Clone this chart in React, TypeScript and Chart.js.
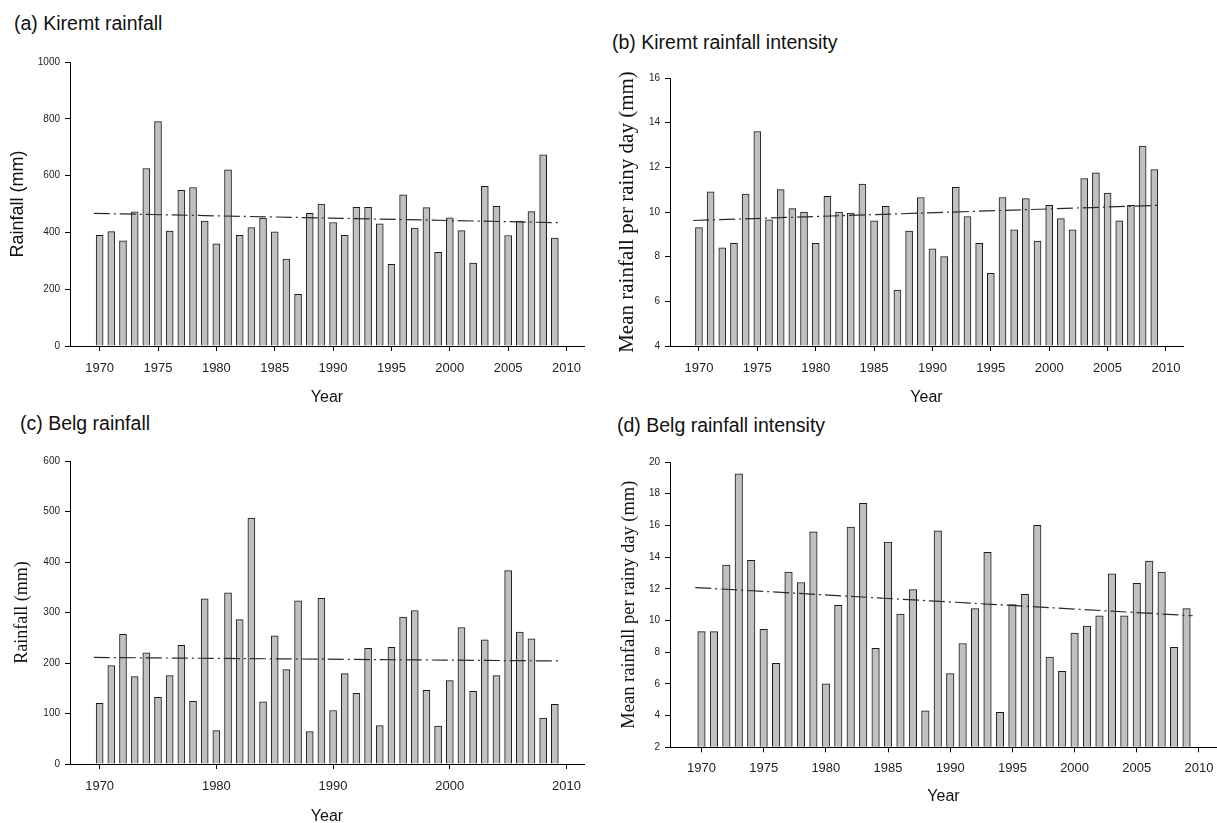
import React, { useEffect, useRef } from "react";
import { Chart, registerables } from "chart.js";

Chart.register(...registerables);

// ---------------- data ----------------
const years = [
  1970, 1971, 1972, 1973, 1974, 1975, 1976, 1977, 1978, 1979,
  1980, 1981, 1982, 1983, 1984, 1985, 1986, 1987, 1988, 1989,
  1990, 1991, 1992, 1993, 1994, 1995, 1996, 1997, 1998, 1999,
  2000, 2001, 2002, 2003, 2004, 2005, 2006, 2007, 2008, 2009,
];

const kiremtRainfall = [
  390, 403, 370, 472, 625, 790, 405, 548, 558, 440,
  360, 620, 390, 417, 450, 402, 306, 182, 467, 500,
  435, 390, 488, 488, 430, 288, 532, 415, 487, 330,
  451, 406, 292, 562, 492, 389, 440, 473, 673, 380,
];

const kiremtIntensity = [
  9.3, 10.9, 8.4, 8.6, 10.8, 13.6, 9.65, 11.0, 10.15, 10.0,
  8.6, 10.7, 10.0, 9.95, 11.25, 9.6, 10.25, 6.5, 9.15, 10.65,
  8.35, 8.0, 11.1, 9.8, 8.6, 7.25, 10.65, 9.2, 10.6, 8.7,
  10.3, 9.7, 9.2, 11.5, 11.75, 10.85, 9.6, 10.3, 12.95, 11.9,
];

const belgRainfall = [
  120, 195, 257, 173, 220, 132, 175, 235, 124, 327,
  66, 339, 286, 487, 123, 254, 187, 323, 64, 328,
  106, 179, 140, 229, 76, 231, 291, 304, 146, 75,
  165, 270, 144, 246, 175, 383, 261, 248, 91, 118,
];

const belgIntensity = [
  9.3, 9.3, 13.5, 19.25, 13.8, 9.45, 7.3, 13.05, 12.4, 15.6,
  6.0, 10.95, 15.9, 17.4, 8.25, 14.95, 10.4, 11.95, 4.3, 15.65,
  6.65, 8.55, 10.75, 14.3, 4.2, 11.0, 11.65, 16.0, 7.7, 6.8,
  9.2, 9.65, 10.3, 12.95, 10.3, 12.35, 13.75, 13.05, 8.3, 10.75,
];

// linear trend lines (start / end)
const trendYears = [1969.5, 2009.5];
const kiremtRainfallTrend = [467, 434];
const kiremtIntensityTrend = [9.62, 10.3];
const belgRainfallTrend = [211, 204];
const belgIntensityTrend = [12.08, 10.3];

// tick labels
const xTicksFive = [1970, 1975, 1980, 1985, 1990, 1995, 2000, 2005, 2010];
const xTicksTen = [1970, 1980, 1990, 2000, 2010];
const yTicksA = [0, 200, 400, 600, 800, 1000];
const yTicksB = [4, 6, 8, 10, 12, 14, 16];
const yTicksC = [0, 100, 200, 300, 400, 500, 600];
const yTicksD = [2, 4, 6, 8, 10, 12, 14, 16, 18, 20];

const titles = [
  "(a) Kiremt rainfall",
  "(b) Kiremt rainfall intensity",
  "(c) Belg rainfall",
  "(d) Belg rainfall intensity",
];

const SANS = "Arial, 'Liberation Sans', Helvetica, sans-serif";
const SERIF = "'Times New Roman', 'Liberation Serif', Times, serif";

type Panel = {
  title: string;
  titleLeft: number;
  titleTop: number;
  left: number;
  top: number;
  width: number;
  height: number;
  padding: { top: number; right: number; bottom: number; left: number };
  yWidth: number;
  xHeight: number;
  xMin: number;
  xMax: number;
  xTicks: number[];
  xTickPad: number;
  xTitlePad: number;
  xTitleLH: number;
  yMin: number;
  yMax: number;
  yTicks: number[];
  yTitle: string;
  yTitleFamily: string;
  yTitleSize: number;
  yTitlePad: number;
  values: number[];
  trend: number[];
  barWidth: number;
};

const panels: Panel[] = [
  {
    title: titles[0], titleLeft: 14, titleTop: 14,
    left: 0, top: 0, width: 600, height: 410,
    padding: { top: 62, right: 16, bottom: 0, left: 0 },
    yWidth: 70, xHeight: 64,
    xMin: 1967.46, xMax: 2011.5, xTicks: xTicksFive, xTickPad: 10.5, xTitlePad: 4, xTitleLH: 1,
    yMin: 0, yMax: 1000, yTicks: yTicksA,
    yTitle: "Rainfall (mm)", yTitleFamily: SANS, yTitleSize: 18, yTitlePad: 9,
    values: kiremtRainfall, trend: kiremtRainfallTrend, barWidth: 7,
  },
  {
    title: titles[1], titleLeft: 612, titleTop: 32.5,
    left: 600, top: 0, width: 617, height: 410,
    padding: { top: 78, right: 34, bottom: 0, left: 0 },
    yWidth: 70, xHeight: 64,
    xMin: 1967.52, xMax: 2011.46, xTicks: xTicksFive, xTickPad: 10.5, xTitlePad: 4, xTitleLH: 1,
    yMin: 4, yMax: 16, yTicks: yTicksB,
    yTitle: "Mean rainfall per rainy day (mm)", yTitleFamily: SERIF, yTitleSize: 21, yTitlePad: 16.5,
    values: kiremtIntensity, trend: kiremtIntensityTrend, barWidth: 7,
  },
  {
    title: titles[2], titleLeft: 20, titleTop: 414,
    left: 0, top: 410, width: 600, height: 413,
    padding: { top: 51, right: 16, bottom: 0, left: 0 },
    yWidth: 70, xHeight: 59,
    xMin: 1967.46, xMax: 2011.5, xTicks: xTicksTen, xTickPad: 11.2, xTitlePad: 0, xTitleLH: 0.8,
    yMin: 0, yMax: 600, yTicks: yTicksC,
    yTitle: "Rainfall (mm)", yTitleFamily: SERIF, yTitleSize: 18, yTitlePad: 13,
    values: belgRainfall, trend: belgRainfallTrend, barWidth: 7,
  },
  {
    title: titles[3], titleLeft: 617, titleTop: 416,
    left: 600, top: 410, width: 617, height: 413,
    padding: { top: 52, right: 0, bottom: 0, left: 0 },
    yWidth: 70, xHeight: 75.7,
    xMin: 1967.47, xMax: 2011.45, xTicks: xTicksFive, xTickPad: 9.2, xTitlePad: 18.3, xTitleLH: 1,
    yMin: 2, yMax: 20, yTicks: yTicksD,
    yTitle: "Mean rainfall per rainy day (mm)", yTitleFamily: SERIF, yTitleSize: 18.5, yTitlePad: 20.25,
    values: belgIntensity, trend: belgIntensityTrend, barWidth: 7.5,
  },
];

function PanelChart({ p }: { p: Panel }) {
  const ref = useRef<HTMLCanvasElement | null>(null);

  useEffect(() => {
    if (!ref.current) return;
    const chart = new Chart(ref.current, {
      type: "bar",
      data: {
        datasets: [
          {
            type: "line",
            data: trendYears.map((x, i) => ({ x, y: p.trend[i] })),
            borderColor: "#2a2a2a",
            borderWidth: 1.2,
            borderDash: [16, 4, 2, 4],
            pointRadius: 0,
            fill: false,
            order: 0,
          } as any,
          {
            type: "bar",
            data: years.map((x, i) => ({ x, y: p.values[i] })),
            backgroundColor: "#c0c0c0",
            borderColor: "#1a1a1a",
            borderWidth: 1,
            barThickness: p.barWidth,
            base: p.yMin,
            order: 1,
          } as any,
        ],
      },
      options: {
        responsive: false,
        animation: false,
        layout: { padding: p.padding },
        plugins: {
          legend: { display: false },
          tooltip: { enabled: false },
          title: { display: false },
        },
        scales: {
          x: {
            type: "linear",
            offset: false,
            min: p.xMin,
            max: p.xMax,
            afterBuildTicks: (s: any) => {
              s.ticks = p.xTicks.map((v) => ({ value: v }));
            },
            afterFit: (s: any) => {
              s.height = p.xHeight;
              s.paddingLeft = 0;
              s.paddingRight = 0;
            },
            ticks: {
              autoSkip: false,
              maxRotation: 0,
              callback: (v: any) => String(v),
              font: { family: SANS, size: 13, lineHeight: 1 },
              color: "#222",
              padding: p.xTickPad,
            },
            grid: {
              offset: false,
              drawOnChartArea: false,
              drawTicks: true,
              tickLength: 5,
              color: "#000",
              lineWidth: 1,
            },
            border: { display: true, color: "#000", width: 1 },
            title: {
              display: true,
              text: "Year",
              font: { family: SANS, size: 16, lineHeight: p.xTitleLH },
              color: "#111",
              padding: { top: 0, bottom: p.xTitlePad },
            },
          },
          y: {
            type: "linear",
            min: p.yMin,
            max: p.yMax,
            afterBuildTicks: (s: any) => {
              s.ticks = p.yTicks.map((v) => ({ value: v }));
            },
            afterFit: (s: any) => {
              s.width = p.yWidth;
              s.paddingTop = 0;
              s.paddingBottom = 0;
            },
            ticks: {
              callback: (v: any) => String(v),
              font: { family: SANS, size: 10, lineHeight: 1 },
              color: "#222",
              padding: 5,
            },
            grid: {
              drawOnChartArea: false,
              drawTicks: true,
              tickLength: 5,
              color: "#000",
              lineWidth: 1,
            },
            border: { display: true, color: "#000", width: 1 },
            title: {
              display: true,
              text: p.yTitle,
              font: { family: p.yTitleFamily, size: p.yTitleSize, lineHeight: 1 },
              color: "#111",
              padding: { top: p.yTitlePad, bottom: 0 },
            },
          },
        },
      } as any,
    });
    return () => chart.destroy();
  }, [p]);

  return (
    <>
      <div
        style={{
          position: "absolute",
          left: p.titleLeft,
          top: p.titleTop,
          fontFamily: SANS,
          fontSize: 19.5,
          lineHeight: "19.5px",
          color: "#111",
          whiteSpace: "nowrap",
        }}
      >
        {p.title}
      </div>
      <canvas
        ref={ref}
        width={p.width}
        height={p.height}
        style={{
          position: "absolute",
          left: p.left,
          top: p.top,
          width: p.width,
          height: p.height,
        }}
      />
    </>
  );
}

export default function App() {
  useEffect(() => {
    document.body.style.margin = "0";
  }, []);
  return (
    <div
      style={{
        position: "absolute",
        left: 0,
        top: 0,
        width: 1217,
        height: 823,
        overflow: "hidden",
        background: "#fff",
      }}
    >
      {panels.map((p, i) => (
        <PanelChart key={i} p={p} />
      ))}
    </div>
  );
}
